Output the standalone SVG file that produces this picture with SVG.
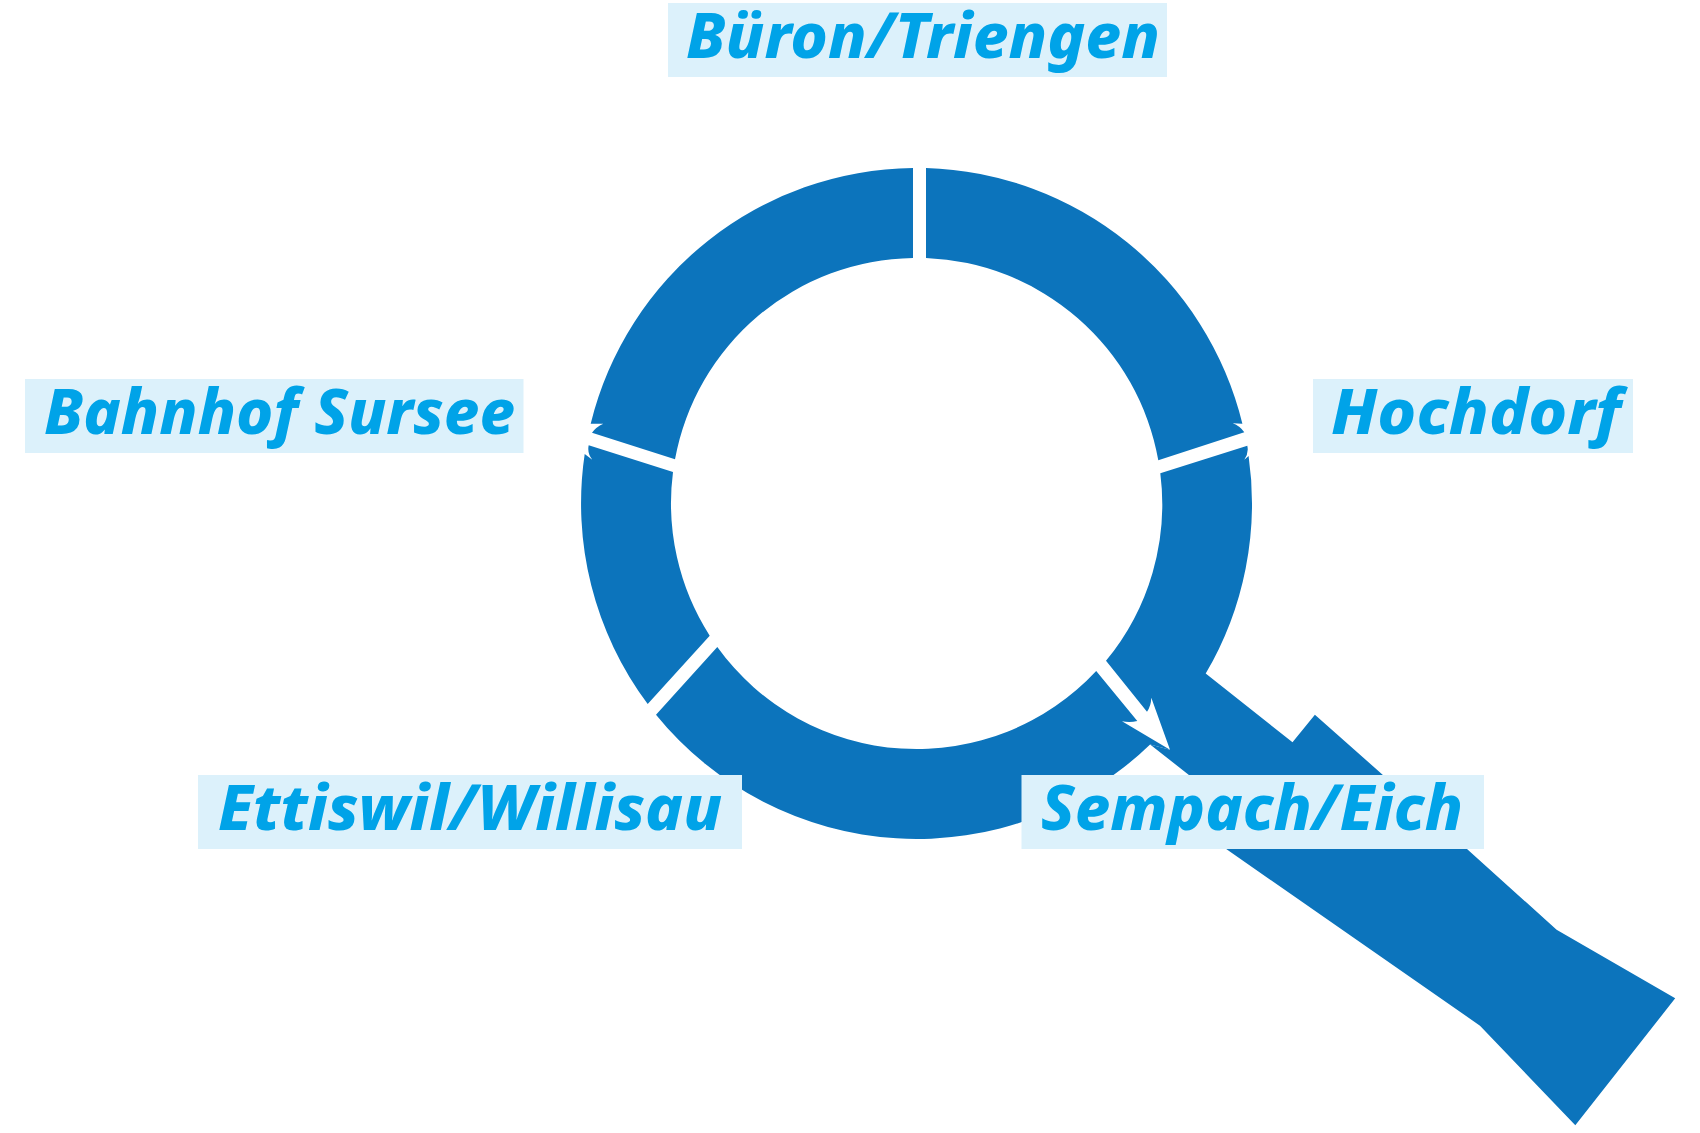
<svg xmlns="http://www.w3.org/2000/svg" width="1700" height="1133" viewBox="0 0 1700 1133">
<style>
.seg{fill:#0c74bc;stroke:none}
.box{fill:#dcf1fb}
.lbl{font-family:"Noto Sans","Open Sans","Liberation Sans",sans-serif;font-weight:800;font-style:italic;font-size:63px;fill:#00a3e8;stroke:none}
</style>
<rect width="1700" height="1133" fill="#fff"/>
<g id="connectors">
<path id="seg-top-right" class="seg" d="M926 168A335.5 335.5 0 0 1 1242.4 423.8L1232.7 423.3Q1240 426 1244.3 432.3L1158.3 460.3A245.5 245.5 0 0 0 926 258Z"/>
<path id="seg-right" class="seg" d="M1160.3 473.3L1247.3 445.7Q1249 453 1244.3 459.7L1248.6 456A335.5 335.5 0 0 1 1205.7 673.6L1292.5 742.3L1314.9 714.7L1382.9 775L1467 849L1556.6 929.7L1675.2 998.3L1575.3 1125.3L1480 1025.7L1226.2 849L1188.9 775L1150.1 744.4L1170 749.7L1151.3 697.7Q1151 706 1147 711.7L1106 660.7A245.5 245.5 0 0 0 1160.3 473.3Z"/>
<path id="seg-bottom" class="seg" d="M1096.2 670.9L1137.3 721Q1130 723 1122 721.3L1170 749.7L1150.1 744.4A335.5 335.5 0 0 1 656 714.7L717.3 647A245.5 245.5 0 0 0 1096.2 670.9Z"/>
<path id="seg-left" class="seg" d="M647.7 704A335.5 335.5 0 0 1 584.7 454L592.3 459.7Q587 453 588.7 445.3L673 472A245.5 245.5 0 0 0 709.7 635.7Z"/>
<path id="seg-top-left" class="seg" d="M590.7 423.7A335.5 335.5 0 0 1 913 168L913 258A245.5 245.5 0 0 0 675 459.3L592 432.7Q596 427 603.3 423.7Z"/>
</g>
<g id="node-bueron"><rect class="box" x="668" y="3" width="499" height="74"/><text class="lbl" x="686" y="57.5" textLength="474" lengthAdjust="spacingAndGlyphs">Büron/Triengen</text></g>
<g id="node-hochdorf"><rect class="box" x="1313" y="379" width="320" height="74"/><text class="lbl" x="1331" y="433.5" textLength="290" lengthAdjust="spacingAndGlyphs">Hochdorf</text></g>
<g id="node-sempach"><rect class="box" x="1021.5" y="775" width="462.5" height="74"/><text class="lbl" x="1041" y="829.5" textLength="422" lengthAdjust="spacingAndGlyphs">Sempach/Eich</text></g>
<g id="node-ettiswil"><rect class="box" x="198" y="775" width="544" height="74"/><text class="lbl" x="218" y="829.5" textLength="504" lengthAdjust="spacingAndGlyphs">Ettiswil/Willisau</text></g>
<g id="node-bahnhof"><rect class="box" x="25" y="379" width="498.5" height="74"/><text class="lbl" x="44" y="433.5" textLength="471" lengthAdjust="spacingAndGlyphs">Bahnhof Sursee</text></g>
</svg>
